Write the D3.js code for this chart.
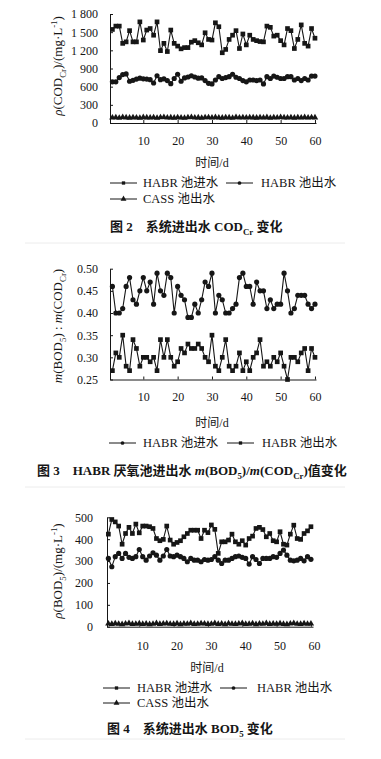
<!DOCTYPE html>
<html><head><meta charset="utf-8">
<script src="https://cdn.jsdelivr.net/npm/d3@7"></script>
<style>body{margin:0;background:#fff} svg{display:block}</style>
</head><body><svg id="c" width="381" height="759"></svg>
<script>
// ---------- DATA ----------
const days = [1,2,3,4,5,6,7,8,9,10,11,12,13,14,15,16,17,18,19,20,21,22,23,24,25,26,27,28,29,30,
  31,32,33,34,35,36,37,38,39,40,41,42,43,44,45,46,47,48,49,50,51,52,53,54,55,56,57,58,59,60];
const xTicks = [10,20,30,40,50,60];

// Fig 2 COD (mg/L)
const codInfluent = [1545,1600,1600,1315,1340,1525,1340,1340,1670,1370,1535,1560,1450,1670,1195,1315,1180,1535,1315,1270,
  1225,1245,1245,1335,1360,1325,1290,1490,1380,1370,1655,1590,1160,1215,1380,1450,1525,1230,1470,1290,
  1450,1380,1360,1345,1340,1600,1580,1435,1450,1360,1290,1560,1525,1230,1380,1620,1315,1270,1560,1400];
const codEffluent = [680,680,750,800,810,690,705,725,740,730,725,715,660,780,715,730,700,650,735,805,
  690,745,760,780,760,740,745,700,655,645,710,765,735,750,765,805,755,735,700,680,
  710,710,700,710,645,765,735,775,755,735,735,765,765,710,735,700,735,710,775,775];
const codCass = [88,92,85,95,90,86,93,89,84,94,90,87,92,85,91,95,88,90,86,93,
  89,84,92,96,88,90,85,93,91,87,94,89,86,92,90,85,95,88,91,87,
  93,90,86,92,89,94,85,91,88,95,90,87,93,86,92,89,94,88,91,90];
const codTicks = [0,300,600,900,1200,1500,1800];
const codTickLabels = ["0","300","600","900","1 200","1 500","1 800"];

// Fig 3 BOD5/COD ratio
const ratioInfluent = [0.46,0.40,0.40,0.41,0.46,0.48,0.43,0.42,0.45,0.48,0.45,0.47,0.42,0.49,0.45,0.44,0.49,0.48,0.40,0.46,
  0.44,0.43,0.39,0.39,0.42,0.40,0.43,0.47,0.46,0.49,0.40,0.44,0.43,0.40,0.40,0.41,0.42,0.48,0.49,0.46,
  0.46,0.42,0.47,0.45,0.45,0.41,0.43,0.41,0.42,0.42,0.49,0.45,0.40,0.41,0.44,0.44,0.44,0.42,0.41,0.42];
const ratioEffluent = [0.27,0.31,0.30,0.35,0.28,0.27,0.34,0.32,0.28,0.30,0.30,0.29,0.30,0.27,0.34,0.30,0.34,0.30,0.28,0.29,
  0.32,0.31,0.33,0.32,0.32,0.33,0.32,0.30,0.29,0.35,0.28,0.27,0.30,0.34,0.28,0.27,0.28,0.31,0.27,0.29,
  0.27,0.30,0.31,0.34,0.28,0.29,0.28,0.30,0.29,0.31,0.28,0.25,0.30,0.30,0.29,0.31,0.32,0.27,0.32,0.30];
const ratioTicks = [0.25,0.30,0.35,0.40,0.45,0.50];
const ratioTickLabels = ["0.25","0.30","0.35","0.40","0.45","0.50"];

// Fig 4 BOD5 (mg/L)
const bodInfluent = [423,490,479,460,377,426,454,426,469,429,460,460,457,449,403,393,399,460,396,377,
  385,393,411,426,441,441,441,403,441,430,465,445,335,388,388,396,423,388,377,393,
  373,403,414,449,454,444,411,426,393,388,434,377,373,423,464,403,399,426,438,457];
const bodEffluent = [312,274,320,335,312,335,317,312,320,353,320,304,323,338,327,304,323,353,323,320,
  327,320,312,297,312,304,304,297,307,304,307,320,304,289,304,304,312,320,323,317,
  312,286,320,307,289,312,312,312,320,317,335,350,327,304,301,304,312,301,320,308];
const bodCass = [14,12,15,13,11,14,16,12,13,15,12,14,11,13,16,12,14,15,13,12,
  15,11,14,13,16,12,13,15,14,12,13,16,12,14,11,15,13,12,14,16,
  12,13,15,11,14,13,16,12,14,13,15,12,11,14,16,13,12,15,13,14];
const bodTicks = [0,100,200,300,400,500];
const bodTickLabels = ["0","100","200","300","400","500"];

// ---------- DRAWING ----------
const FONT = '"Liberation Serif","Noto Sans CJK SC",serif';
const INK = "#161616";
const svg = d3.select("#c");
svg.append("rect").attr("width",381).attr("height",759).attr("fill","#fff");

function rich(textSel, parts, size) {
  let shift = 0;
  parts.forEach(p => {
    const ts = textSel.append("tspan").text(p.t);
    const target = p.sub ? 0.3*size : (p.sup ? -0.4*size : 0);
    if (target !== shift) { ts.attr("dy", target - shift); shift = target; }
    if (p.sub || p.sup) ts.attr("font-size", size*0.68);
    if (p.it) ts.attr("font-style","italic");
  });
}

const sym = {
  square: d3.symbol().type(d3.symbolSquare).size(22),
  circle: d3.symbol().type(d3.symbolCircle).size(21),
  triangle: d3.symbol().type(d3.symbolTriangle).size(18)
};
const symSmall = {
  square: d3.symbol().type(d3.symbolSquare).size(11),
  circle: d3.symbol().type(d3.symbolCircle).size(11),
  triangle: d3.symbol().type(d3.symbolTriangle).size(15)
};

function panel(cfg) {
  const g = svg.append("g");
  const x = d3.scaleLinear().domain(cfg.xDomain).range(cfg.xRange);
  const y = d3.scaleLinear().domain(cfg.yDomain).range(cfg.yRange);

  const ay = g.append("g").attr("transform", `translate(${cfg.xRange[0]},0)`)
    .call(d3.axisLeft(y).tickValues(cfg.yTicks).tickFormat((d,i)=>cfg.yTickLabels[i])
      .tickSizeInner(-3).tickSizeOuter(0).tickPadding(cfg.yPad));
  const ax = g.append("g").attr("transform", `translate(0,${cfg.yRange[0]})`)
    .call(d3.axisBottom(x).tickValues(xTicks).tickFormat(d3.format("d"))
      .tickSizeInner(-3).tickSizeOuter(0).tickPadding(cfg.xPad));
  [ay, ax].forEach(a => {
    a.selectAll("path,line").attr("stroke", INK).attr("stroke-width", 1);
    a.selectAll("text").attr("fill", INK).attr("font-family", FONT).attr("font-size", 12);
  });
  ax.selectAll("text").attr("dx", cfg.xLabelDx || 0);

  cfg.series.forEach(s => {
    const pts = days.map((d,i) => ({d, v: s.values[i]}));
    g.append("path").datum(pts)
      .attr("fill","none").attr("stroke", INK).attr("stroke-width", 1.1)
      .attr("d", d3.line().x(p=>x(p.d)).y(p=>y(p.v)));
    g.append("g").selectAll("path").data(pts).join("path")
      .attr("transform", p => `translate(${x(p.d)},${y(p.v)})`)
      .attr("d", sym[s.shape]()).attr("fill", INK);
  });

  const yl = g.append("text")
    .attr("transform", `translate(${cfg.yLabelX},${cfg.yLabelY}) rotate(-90)`)
    .attr("text-anchor","middle").attr("font-family", FONT).attr("font-size", 13).attr("fill", INK);
  rich(yl, cfg.yLabel, 13);

  g.append("text").attr("x", cfg.xLabelX).attr("y", cfg.xLabelY)
    .attr("text-anchor","middle").attr("font-family", FONT).attr("font-size", 12).attr("fill", INK)
    .text("时间/d");

  cfg.legend.forEach(l => {
    const lg = g.append("g").attr("transform", `translate(${l.x},${l.y})`);
    lg.append("line").attr("x1",0).attr("x2",27).attr("y1",0).attr("y2",0).attr("stroke",INK).attr("stroke-width",1);
    lg.append("path").attr("transform","translate(13.5,0)").attr("d", symSmall[l.shape]()).attr("fill", INK);
    lg.append("text").attr("x", l.tx).attr("y", 0).attr("dy","0.35em")
      .attr("font-family", FONT).attr("font-size", 12.5).attr("fill", INK).text(l.label);
  });

  const cap = g.append("text").attr("x", cfg.capX).attr("y", cfg.capY)
    .attr("font-family", FONT).attr("font-size", 13).attr("font-weight","bold").attr("fill", INK);
  rich(cap, cfg.caption, 13);

  g.append("line").attr("x1", 25).attr("x2", 345).attr("y1", cfg.sepY).attr("y2", cfg.sepY)
    .attr("stroke", "#ececec").attr("stroke-width", 1);
}

panel({
  xDomain:[0.3,60.3], xRange:[110,316], yDomain:[0,1800], yRange:[123,14],
  yTicks: codTicks, yTickLabels: codTickLabels, yPad: 12, xPad: 13,
  series:[
    {values: codInfluent, shape:"square"},
    {values: codEffluent, shape:"circle"},
    {values: codCass, shape:"triangle"}
  ],
  yLabelX: 62, yLabelY: 66,
  yLabel:[{t:"ρ",it:true},{t:"(COD"},{t:"Cr",sub:true},{t:")/(mg·L"},{t:"-1",sup:true},{t:")"}],
  xLabelX: 212, xLabelY: 167,
  legend:[
    {x:110, y:183, tx:33, shape:"square", label:"HABR 池进水"},
    {x:226, y:183, tx:35, shape:"circle", label:"HABR 池出水"},
    {x:110, y:199, tx:33, shape:"triangle", label:"CASS 池出水"}
  ],
  capX: 110, capY: 231,
  caption:[{t:"图 2　系统进出水 COD"},{t:"Cr",sub:true},{t:" 变化"}],
  sepY: 243
});

panel({
  xDomain:[0.3,60.3], xRange:[110,316], yDomain:[0.25,0.50], yRange:[379.5,268.7],
  yTicks: ratioTicks, yTickLabels: ratioTickLabels, yPad: 12, xPad: 13,
  series:[
    {values: ratioInfluent, shape:"circle"},
    {values: ratioEffluent, shape:"square"}
  ],
  yLabelX: 62, yLabelY: 326,
  yLabel:[{t:"m",it:true},{t:"(BOD"},{t:"5",sub:true},{t:") : "},{t:"m",it:true},{t:"(COD"},{t:"Cr",sub:true},{t:")"}],
  xLabelX: 212, xLabelY: 427,
  legend:[
    {x:109, y:443, tx:34, shape:"circle", label:"HABR 池进水"},
    {x:227, y:443, tx:35, shape:"square", label:"HABR 池出水"}
  ],
  capX: 37, capY: 475,
  caption:[{t:"图 3　HABR 厌氧池进出水 "},{t:"m",it:true},{t:"(BOD"},{t:"5",sub:true},{t:")/"},{t:"m",it:true},{t:"(COD"},{t:"Cr",sub:true},{t:")值变化"}],
  sepY: 487
});

panel({
  xDomain:[0.6,60.6], xRange:[107,313], yDomain:[0,500], yRange:[626.7,517.3],
  yTicks: bodTicks, yTickLabels: bodTickLabels, yPad: 14, xPad: 15, xLabelDx: 3,
  series:[
    {values: bodInfluent, shape:"square"},
    {values: bodEffluent, shape:"circle"},
    {values: bodCass, shape:"triangle"}
  ],
  yLabelX: 62, yLabelY: 571,
  yLabel:[{t:"ρ",it:true},{t:"(BOD"},{t:"5",sub:true},{t:")/(mg·L"},{t:"-1",sup:true},{t:")"}],
  xLabelX: 207, xLabelY: 672,
  legend:[
    {x:103, y:688, tx:34, shape:"square", label:"HABR 池进水"},
    {x:220, y:688, tx:37, shape:"circle", label:"HABR 池出水"},
    {x:103, y:703, tx:34, shape:"triangle", label:"CASS 池出水"}
  ],
  capX: 107, capY: 733,
  caption:[{t:"图 4　系统进出水 BOD"},{t:"5",sub:true},{t:" 变化"}],
  sepY: 739
});
</script></body></html>
